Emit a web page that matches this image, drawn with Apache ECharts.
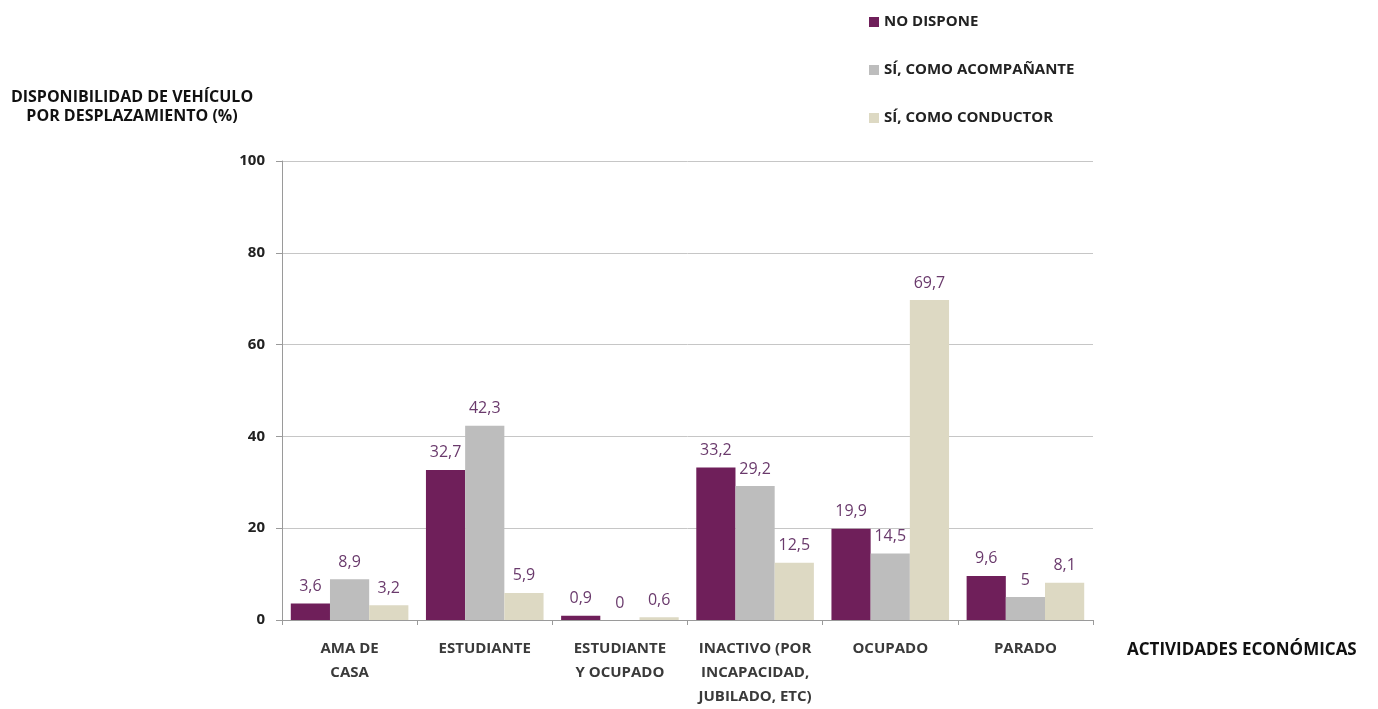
<!DOCTYPE html>
<html>
<head>
<meta charset="utf-8">
<script src="https://cdn.jsdelivr.net/npm/echarts@6/dist/echarts.min.js"></script>
<style>
  html, body { margin: 0; padding: 0; background: #fff; }
  #main { width: 1378px; height: 709px; }
</style>
</head>
<body>
<div id="main"></div>
<script>
  // categorias del eje x
  var categorias = ['AMA DE\nCASA', 'ESTUDIANTE', 'ESTUDIANTE\nY OCUPADO', 'INACTIVO (POR\nINCAPACIDAD,\nJUBILADO, ETC)', 'OCUPADO', 'PARADO'];
  var noDispone = [3.6, 32.7, 0.9, 33.2, 19.9, 9.6];
  var acompanante = [8.9, 42.3, 0, 29.2, 14.5, 5];
  var conductor = [3.2, 5.9, 0.6, 12.5, 69.7, 8.1];
  var ticksY = [0, 20, 40, 60, 80, 100];

  var fuente = 'Open Sans';

  function serie(nombre, datos, color) {
    return {
      name: nombre,
      type: 'bar',
      data: datos,
      barGap: '0%',
      barCategoryGap: '13%',
      itemStyle: { color: color },
      label: {
        show: true,
        position: 'top',
        distance: 9,
        color: '#6a3a6c',
        fontFamily: fuente,
        fontSize: 16,
        formatter: function (p) { return String(p.value).replace('.', ','); }
      }
    };
  }

  var chart = echarts.init(document.getElementById('main'));
  chart.setOption({
    backgroundColor: '#fff',
    animation: false,
    legend: {
      orient: 'vertical',
      left: 864,
      top: 6,
      itemWidth: 10,
      itemHeight: 10,
      itemGap: 26,
      icon: 'rect',
      textStyle: { fontFamily: fuente, fontSize: 15, fontWeight: 'bold', color: '#222', lineHeight: 22 },
      data: ['NO DISPONE', 'SÍ, COMO ACOMPAÑANTE', 'SÍ, COMO CONDUCTOR']
    },
    graphic: [{
      type: 'text',
      x: 132,
      y: 88,
      style: {
        text: 'DISPONIBILIDAD DE VEHÍCULO\nPOR DESPLAZAMIENTO (%)',
        align: 'center',
        verticalAlign: 'top',
        fontFamily: fuente,
        fontSize: 16,
        fontWeight: 'bold',
        lineHeight: 19,
        fill: '#111'
      }
    }],
    grid: { left: 282, right: 285, top: 161, bottom: 89 },
    xAxis: {
      type: 'category',
      data: categorias,
      name: 'ACTIVIDADES ECONÓMICAS',
      nameLocation: 'end',
      nameGap: 34,
      nameTextStyle: {
        fontFamily: fuente, fontSize: 17, fontWeight: 'bold', color: '#111',
        verticalAlign: 'top', padding: [22, 0, 0, 0]
      },
      axisLine: { lineStyle: { color: '#9a9a9a' } },
      axisTick: { show: true, length: 5, lineStyle: { color: '#9a9a9a' } },
      axisLabel: {
        fontFamily: fuente, fontSize: 15, fontWeight: 'bold', color: '#3a3a3a', lineHeight: 24, margin: 17,
        interval: 0
      }
    },
    yAxis: {
      type: 'value',
      min: 0,
      max: 100,
      interval: 20,
      axisLine: { show: true, lineStyle: { color: '#9a9a9a' } },
      axisTick: { show: true, length: 6, lineStyle: { color: '#9a9a9a' } },
      splitLine: { lineStyle: { color: '#c6c6c6' } },
      axisLabel: {
        fontFamily: fuente, fontSize: 15, fontWeight: 'bold', color: '#222', margin: 17,
        formatter: function (v) { return ticksY.indexOf(v) >= 0 ? String(v) : ''; }
      }
    },
    series: [
      serie('NO DISPONE', noDispone, '#6f1f5a'),
      serie('SÍ, COMO ACOMPAÑANTE', acompanante, '#bdbdbd'),
      serie('SÍ, COMO CONDUCTOR', conductor, '#ddd9c3')
    ]
  });
</script>
</body>
</html>
